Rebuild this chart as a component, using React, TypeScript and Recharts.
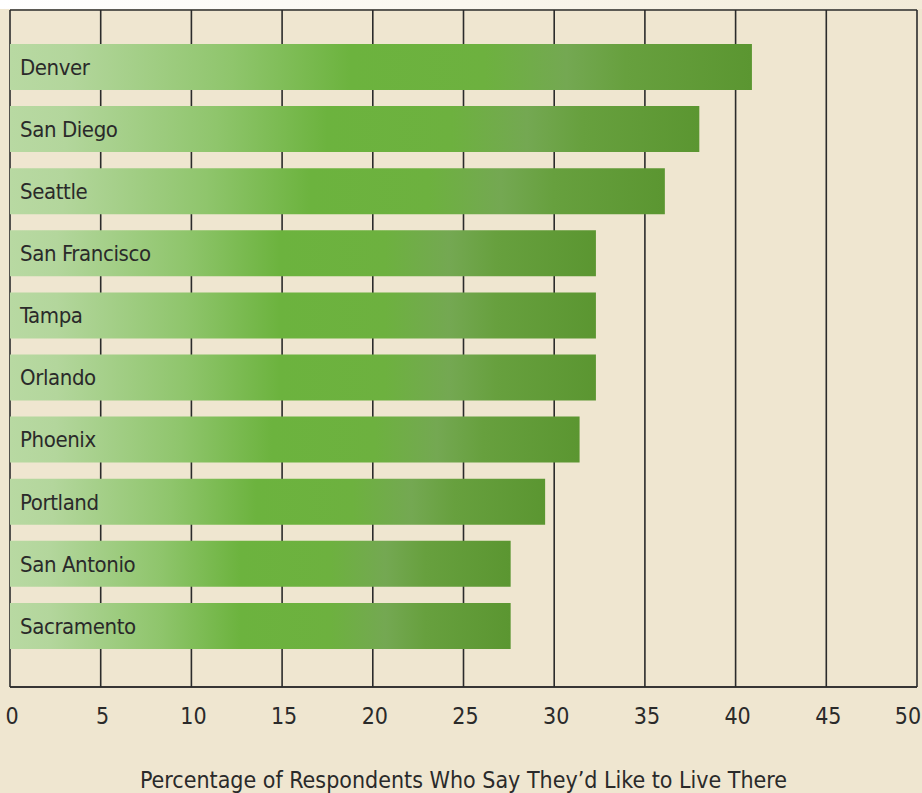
import { BarChart, Bar, XAxis, YAxis, CartesianGrid, LabelList } from "recharts";

const cities = ["Denver", "San Diego", "Seattle", "San Francisco", "Tampa", "Orlando", "Phoenix", "Portland", "San Antonio", "Sacramento"];
const percentages = [40.9, 38.0, 36.1, 32.3, 32.3, 32.3, 31.4, 29.5, 27.6, 27.6];
const xTicks = [0, 5, 10, 15, 20, 25, 30, 35, 40, 45, 50];
const axisTitle = "Percentage of Respondents Who Say They\u2019d Like to Live There";

const data = cities.map((city, i) => ({ city, value: percentages[i] }));

const FONT = "'Liberation Sans Narrow', 'DejaVu Sans Condensed', Roboto, sans-serif";
const BG = "#EFE6D0";

const XTick = ({ x, y, payload }: any) => {
  const last = payload.value === 50;
  return (
    <text x={last ? x - 9 : x + 2} y={y} dy={29} textAnchor="middle" fill="#2a2a2a" fontSize={23} fontFamily={FONT}>
      {payload.value}
    </text>
  );
};

export default function App() {
  return (
    <div style={{ position: "absolute", left: 0, top: 0, width: 922, height: 793, background: BG, overflow: "hidden" }}>
      <div
        style={{
          position: "absolute",
          left: 0,
          top: 0,
          width: 922,
          height: 9,
          background: "linear-gradient(to right, #ffffff 0%, #faf7ef 50%, #f2ebd8 100%)",
        }}
      />
      <BarChart
        width={922}
        height={793}
        data={data}
        layout="vertical"
        margin={{ top: 10, right: 5, left: 10, bottom: 0 }}
      >
        <defs>
          <linearGradient id="barGreen" x1="0" y1="0" x2="1" y2="0">
            <stop offset="0%" stopColor="#b8d9a2" />
            <stop offset="8%" stopColor="#b3d69c" />
            <stop offset="30%" stopColor="#8fc56c" />
            <stop offset="46%" stopColor="#6cb33e" />
            <stop offset="64%" stopColor="#6db13f" />
            <stop offset="75%" stopColor="#74a852" />
            <stop offset="83%" stopColor="#67a03e" />
            <stop offset="100%" stopColor="#5b9631" />
          </linearGradient>
        </defs>
        <CartesianGrid
          stroke="#2b2b2b"
          strokeWidth={1.6}
          horizontalCoordinatesGenerator={({ offset }: any) => [offset.top, offset.top + offset.height]}
        />
        <XAxis
          type="number"
          domain={[0, 50]}
          ticks={xTicks}
          interval={0}
          tickLine={false}
          axisLine={{ stroke: "#2b2b2b", strokeWidth: 1.6 }}
          tick={<XTick />}
          label={{
            value: axisTitle,
            position: "insideBottom",
            offset: 5,
            fill: "#2a2a2a",
            fontSize: 23,
            fontFamily: FONT,
          }}
          height={106}
        />
        <YAxis type="category" dataKey="city" hide padding={{ top: 26, bottom: 30 }} />
        <Bar dataKey="value" fill="url(#barGreen)" barSize={46} isAnimationActive={false}>
          <LabelList
            dataKey="city"
            position="insideLeft"
            offset={10}
            fill="#2a2a2a"
            fontSize={22}
            fontFamily={FONT}
            style={{ letterSpacing: -0.4 }}
          />
        </Bar>
      </BarChart>
    </div>
  );
}
